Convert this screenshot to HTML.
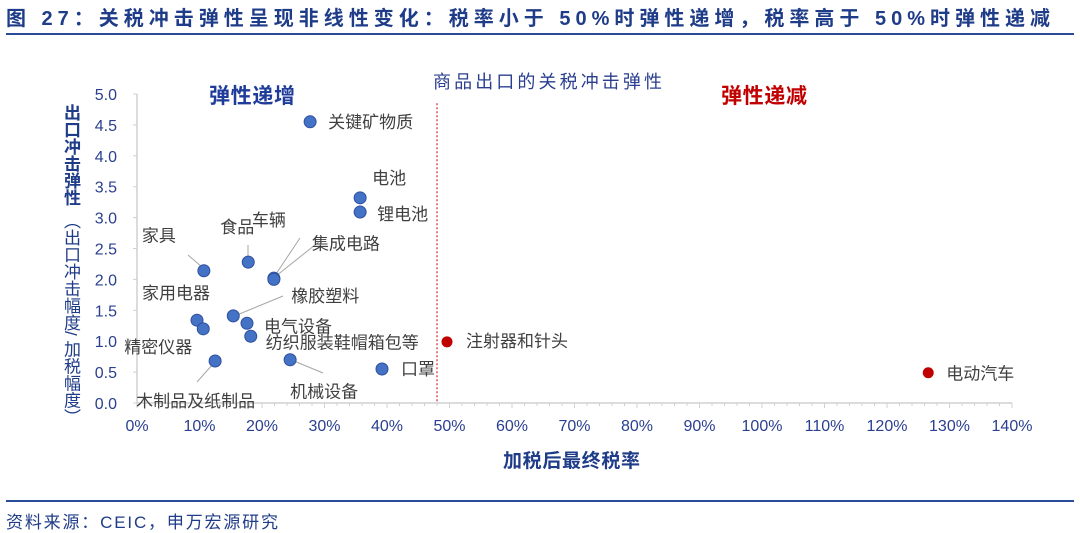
<!DOCTYPE html>
<html><head><meta charset="utf-8"><style>
body{margin:0;background:#fff;width:1080px;height:533px;overflow:hidden;font-family:"Liberation Sans","Noto Sans CJK SC",sans-serif;position:relative;}
.ytitle{position:absolute;writing-mode:vertical-rl;font-size:17px;color:#1f3c88;line-height:18px;}
</style></head><body>
<svg width="1080" height="533" xmlns="http://www.w3.org/2000/svg" font-family="Liberation Sans, Noto Sans CJK SC, sans-serif" style="position:absolute;left:0;top:0">
<text x="6" y="25" font-size="20" font-weight="bold" fill="#1f3c88" textLength="1044" lengthAdjust="spacing">图 27：关税冲击弹性呈现非线性变化：税率小于 50%时弹性递增，税率高于 50%时弹性递减</text>
<rect x="6" y="33" width="1068" height="2" fill="#2a4a9a"/>
<text x="433" y="88" font-size="18" fill="#2a3f8f" textLength="229" lengthAdjust="spacing">商品出口的关税冲击弹性</text>
<text x="209" y="103" font-size="21" font-weight="bold" fill="#1f3c9a" textLength="86" lengthAdjust="spacing">弹性递增</text>
<text x="721" y="103" font-size="21" font-weight="bold" fill="#c00000" textLength="86" lengthAdjust="spacing">弹性递减</text>
<g id="axes"></g>
<g id="marks"></g>
<text x="503" y="467" font-size="19" font-weight="bold" fill="#1f3c88" textLength="137" lengthAdjust="spacing">加税后最终税率</text>
<rect x="6" y="500" width="1068" height="2" fill="#2a4a9a"/>
<text x="6" y="528" font-size="17" fill="#1f3c88" textLength="272" lengthAdjust="spacing">资料来源：CEIC，申万宏源研究</text>
</svg>
<div class="ytitle" style="left:61px;top:104px;font-weight:bold;">出口冲击弹性</div>
<div class="ytitle" style="left:61px;top:212px;">（出口冲击幅度/ 加税幅度）</div>
<script>
const categories=["关键矿物质","电池","锂电池","食品","车辆","集成电路","家具","橡胶塑料","家用电器","精密仪器","电气设备","纺织服装鞋帽箱包等","木制品及纸制品","机械设备","口罩","注射器和针头","电动汽车"];
const taxRates=[27.7,35.7,35.7,17.8,21.9,21.9,10.7,15.4,9.6,10.6,17.6,18.2,12.5,24.5,39.2,49.6,126.6];
const elasticity=[4.55,3.32,3.09,2.28,2.02,2.0,2.14,1.41,1.34,1.2,1.29,1.08,0.68,0.7,0.55,0.99,0.49];
const xTicks=[0,10,20,30,40,50,60,70,80,90,100,110,120,130,140];
const yTicks=[0,0.5,1,1.5,2,2.5,3,3.5,4,4.5,5];
const threshold=48;
const X=v=>137+v*6.25, Y=v=>403-v*61.8;
const NS="http://www.w3.org/2000/svg";
function mk(t,a,p){const e=document.createElementNS(NS,t);for(const k in a)e.setAttribute(k,a[k]);p.appendChild(e);return e;}
const ax=document.getElementById('axes'), mg=document.getElementById('marks');
let l=mk('line',{x1:X(0),y1:Y(0),x2:X(140),y2:Y(0),stroke:'#d0d0d0','stroke-width':1.5},ax);


l=mk('line',{x1:X(0),y1:Y(0),x2:X(0),y2:Y(5),stroke:'#d0d0d0','stroke-width':1.5},ax);


for(let v=0;v<=140;v+=2){const m=mk('line',{x1:X(v),y1:Y(0),x2:X(v),y2:Y(0)+(v%10?3:5),stroke:'#d0d0d0'},ax);

}
xTicks.forEach(v=>{const t=mk('text',{x:X(v),y:431,'font-size':16,fill:'#2a3f8f','text-anchor':'middle'},ax);t.textContent=v+'%';

});
yTicks.forEach(v=>{const t=mk('text',{x:117,y:Y(v)+6,'font-size':16,fill:'#2a3f8f','text-anchor':'end'},ax);t.textContent=v.toFixed(1);


const m=mk('line',{x1:X(0)-4,y1:Y(v),x2:X(0),y2:Y(v),stroke:'#d0d0d0'},ax);

});
l=mk('line',{x1:X(threshold),y1:Y(4.85),x2:X(threshold),y2:Y(0),stroke:'#c00000','stroke-dasharray':'2,2','stroke-width':1},ax);


const lab=[[18,6,'start'],[12,-14,'start'],[17,8,'start'],[-28,-29,'start'],[-22,-52,'start'],[38,-30,'start'],[-62,-29,'start'],[58,-14,'start'],[-55,-21,'start'],[-79,24,'start'],[17,9,'start'],[15,12,'start'],[-79,46,'start'],[0,38,'start'],[19,6,'start'],[19,5,'start'],[18,7,'start']];
const leaders={3:[248,245,248,258],4:[300,238,276,274],5:[320,241,276,276],6:[188,255,202,267],7:[283,296,237,315],12:[197,382,213,364],13:[323,373,294,361]};
categories.forEach((c,i)=>{
 if(leaders[i]){const q=leaders[i];const g=mk('line',{x1:q[0],y1:q[1],x2:q[2],y2:q[3],stroke:'#a6a6a6'},mg);
 
 }
});
categories.forEach((c,i)=>{
 const red=taxRates[i]>=threshold;
 const p=mk('circle',{cx:X(taxRates[i]),cy:Y(elasticity[i]),r:red?5:6,fill:red?'#c00000':'#4472c4',stroke:red?'#c00000':'#2f4f9f','stroke-width':1},mg);
 
 
 const t=mk('text',{x:X(taxRates[i])+lab[i][0],y:Y(elasticity[i])+lab[i][1],'font-size':17,fill:'#404040','text-anchor':lab[i][2]},mg);
 t.textContent=c;
 
 
});
</script>
</body></html>
